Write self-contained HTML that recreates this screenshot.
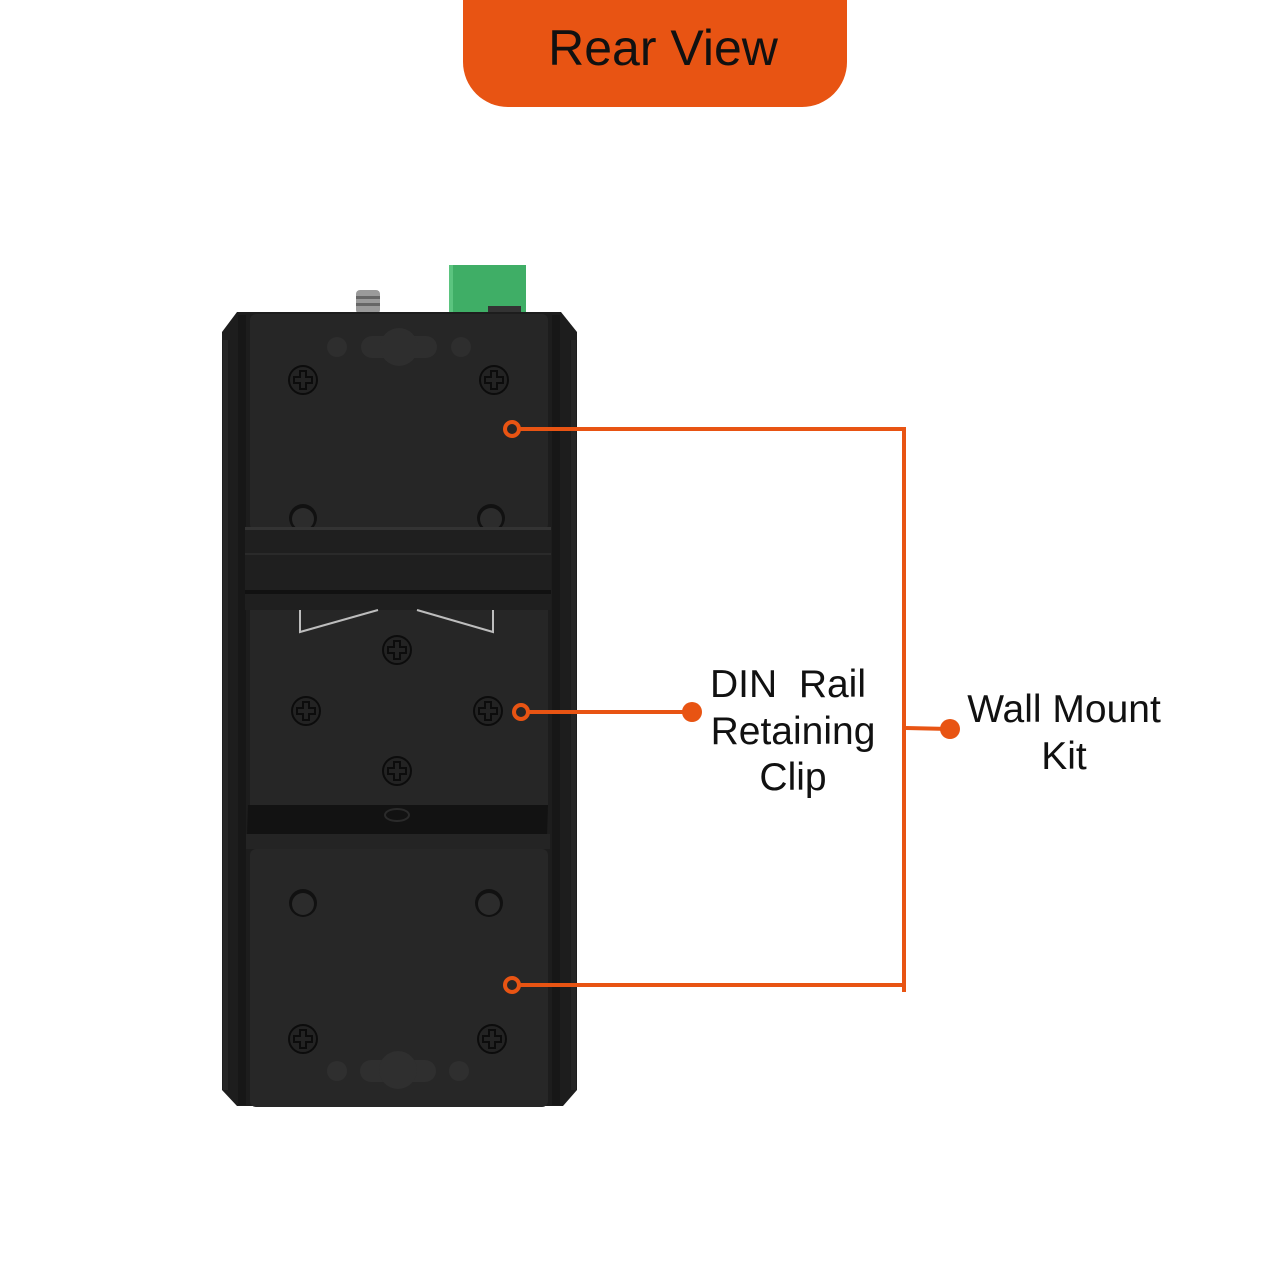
<!DOCTYPE html>
<html><head><meta charset="utf-8">
<style>
html,body{margin:0;padding:0;background:#fff;}
svg{display:block;}
text{font-family:"Liberation Sans",sans-serif;}
</style></head>
<body>
<svg width="1280" height="1280" viewBox="0 0 1280 1280" xmlns="http://www.w3.org/2000/svg">
<defs>
<g id="scr">
  <circle r="14" fill="#232323" stroke="#0c0c0c" stroke-width="2"/>
  <path d="M-3,-9 h6 v6 h6 v6 h-6 v6 h-6 v-6 h-6 v-6 h6z" fill="none" stroke="#0c0c0c" stroke-width="2"/>
</g>
<g id="dim">
  <circle r="14" fill="#111"/>
  <circle r="11" cy="1" fill="#2c2c2c"/>
</g>
</defs>
<path d="M463,0 H847 V62 A45,45 0 0 1 802,107 H508 A45,45 0 0 1 463,62 Z" fill="#e85413"/>
<text x="663" y="65" font-size="50" text-anchor="middle" fill="#111">Rear View</text>

<rect x="356" y="290" width="24" height="24" rx="4" fill="#9a9a9a"/>
<rect x="356" y="296" width="24" height="3" fill="#666"/>
<rect x="356" y="303" width="24" height="3" fill="#666"/>
<rect x="449" y="265" width="77" height="48" fill="#3fae66"/>
<rect x="449" y="265" width="4" height="48" fill="#5bc47f"/>
<rect x="488" y="306" width="33" height="8" fill="#333"/>

<path d="M237,312 H561 L577,332 V1090 L563,1106 H237 L222,1090 V332 Z" fill="#1d1d1d"/>
<rect x="223" y="340" width="5" height="750" fill="#262626"/>
<rect x="571" y="340" width="5" height="750" fill="#262626"/>
<rect x="238" y="315" width="8" height="790" fill="#171717"/>
<rect x="552" y="315" width="8" height="790" fill="#171717"/>
<rect x="250" y="314" width="298" height="216" rx="6" fill="#262626"/>
<rect x="250" y="610" width="298" height="200" fill="#262626"/>
<g fill="#2e2e2e">
<circle cx="337" cy="347" r="10"/><circle cx="461" cy="347" r="10"/>
<rect x="361" y="336" width="76" height="22" rx="11"/>
<circle cx="399" cy="347" r="19"/>
</g>
<use href="#scr" x="303" y="380"/><use href="#scr" x="494" y="380"/>
<use href="#dim" x="303" y="518"/><use href="#dim" x="491" y="518"/>

<rect x="245" y="527" width="306" height="83" fill="#1f1f1f"/>
<rect x="245" y="527" width="306" height="3" fill="#333"/>
<rect x="245" y="553" width="306" height="2" fill="#2a2a2a"/>
<rect x="245" y="590" width="306" height="4" fill="#111"/>
<path d="M300,610 V632 L378,610 M417,610 L493,632 V610" fill="none" stroke="#bdbdbd" stroke-width="2"/>
<use href="#scr" x="397" y="650"/>
<use href="#scr" x="306" y="711"/><use href="#scr" x="488" y="711"/>
<use href="#scr" x="397" y="771"/>

<path d="M248,805 H548 L547,836 H247 Z" fill="#121212"/>
<rect x="246" y="834" width="304" height="15" fill="#242424"/>
<ellipse cx="397" cy="815" rx="12" ry="6" fill="none" stroke="#2a2a2a" stroke-width="2"/>
<rect x="250" y="849" width="298" height="258" rx="6" fill="#272727"/>
<use href="#dim" x="303" y="903"/><use href="#dim" x="489" y="903"/>
<use href="#scr" x="303" y="1039"/><use href="#scr" x="492" y="1039"/>
<g fill="#2f2f2f">
<circle cx="337" cy="1071" r="10"/><circle cx="459" cy="1071" r="10"/>
<rect x="360" y="1060" width="76" height="22" rx="11"/>
<circle cx="398" cy="1070" r="19"/>
</g>

<g stroke="#e85413" stroke-width="4" fill="none">
<path d="M519,429 H904 V992"/>
<path d="M519,985 H904"/>
<path d="M528,712 H692"/>
<path d="M906,728 L950,729"/>
<circle cx="512" cy="429" r="7" fill="#262626"/>
<circle cx="512" cy="985" r="7" fill="#272727"/>
<circle cx="521" cy="712" r="7" fill="#262626"/>
</g>
<circle cx="692" cy="712" r="10" fill="#e85413"/>
<circle cx="950" cy="729" r="10" fill="#e85413"/>

<g font-size="39" fill="#111" text-anchor="middle">
<text x="788" y="697">DIN&#160; Rail</text>
<text x="793" y="744">Retaining</text>
<text x="793" y="790">Clip</text>
<text x="1064" y="722">Wall Mount</text>
<text x="1064" y="769">Kit</text>
</g>
</svg>
</body></html>
